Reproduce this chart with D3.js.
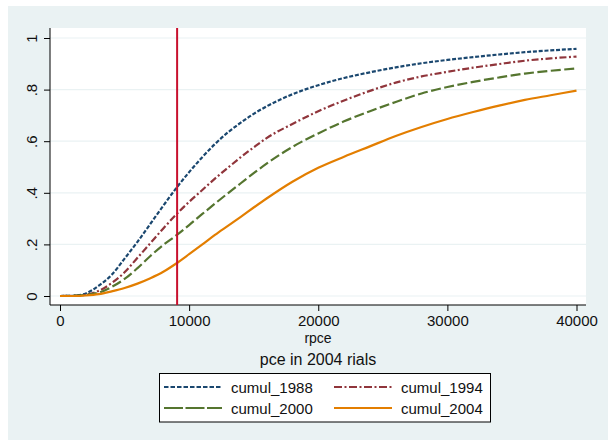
<!DOCTYPE html>
<html>
<head>
<meta charset="utf-8">
<script src="https://cdn.jsdelivr.net/npm/d3@7"></script>
<style>
  body { margin: 0; background: #fff; }
  text { font-family: "Liberation Sans", Arial, sans-serif; fill: #111; }
</style>
</head>
<body>
<div id="chart"></div>
<script>
// data
var rpce = [0, 1000, 2000, 3000, 4000, 5000, 6000, 7000, 8000, 9000, 10000, 11000, 12000, 13000, 14000, 15000,
  16000, 18000, 20000, 22000, 24000, 26000, 28000, 30000, 32000, 34000, 36000, 38000, 40000];
var cumul1988 = [0, 0.001, 0.01, 0.04, 0.082, 0.145, 0.21, 0.28, 0.35, 0.418, 0.48, 0.537, 0.589, 0.634, 0.672, 0.706,
  0.735, 0.782, 0.817, 0.845, 0.867, 0.886, 0.902, 0.915, 0.926, 0.936, 0.945, 0.952, 0.958];
var cumul1994 = [0, 0.001, 0.005, 0.02, 0.05, 0.092, 0.148, 0.205, 0.262, 0.316, 0.365, 0.41, 0.455, 0.497, 0.538, 0.576,
  0.612, 0.667, 0.716, 0.758, 0.795, 0.827, 0.851, 0.869, 0.885, 0.899, 0.912, 0.921, 0.928];
var cumul2000 = [0, 0.001, 0.004, 0.013, 0.035, 0.066, 0.108, 0.155, 0.198, 0.235, 0.275, 0.317, 0.358, 0.398, 0.437, 0.476,
  0.513, 0.578, 0.63, 0.677, 0.716, 0.752, 0.785, 0.81, 0.83, 0.847, 0.862, 0.873, 0.882];
var cumul2004 = [0, 0, 0.002, 0.007, 0.018, 0.031, 0.048, 0.069, 0.094, 0.126, 0.162, 0.199, 0.237, 0.272, 0.307, 0.343,
  0.378, 0.443, 0.497, 0.54, 0.58, 0.62, 0.655, 0.686, 0.713, 0.738, 0.76, 0.778, 0.796];
var seriesNames = ["cumul_1988", "cumul_1994", "cumul_2000", "cumul_2004"];
var xTicks = [0, 10000, 20000, 30000, 40000];
var yTicks = [0, 0.2, 0.4, 0.6, 0.8, 1];
var refLine = 9070;

var svgWidth = 608, svgHeight = 440;
var plot = { left: 50, right: 586, top: 28, bottom: 305 };

var svg = d3.select("#chart").append("svg")
  .attr("width", svgWidth)
  .attr("height", svgHeight);

// outer background
svg.append("rect")
  .attr("x", 8).attr("y", 6)
  .attr("width", svgWidth - 8).attr("height", svgHeight - 6)
  .attr("fill", "#eaf2f3");

// plot region
svg.append("rect")
  .attr("x", plot.left).attr("y", plot.top)
  .attr("width", plot.right - plot.left).attr("height", plot.bottom - plot.top)
  .attr("fill", "#fff");

var x = d3.scaleLinear().domain([0, 40000]).range([60, 576.5]);
var y = d3.scaleLinear().domain([0, 1]).range([296, 38]);

// gridlines
svg.append("g").selectAll("line")
  .data(yTicks)
  .enter().append("line")
  .attr("x1", plot.left).attr("x2", plot.right)
  .attr("y1", d => y(d)).attr("y2", d => y(d))
  .attr("stroke", "#eaf2f3")
  .attr("stroke-width", 1.2);

// axes
var fmtY = function(d) { return d === 0 ? "0" : d === 1 ? "1" : d3.format(".1f")(d).replace("0.", "."); };

var leftAxis = d3.axisLeft(y).tickValues(yTicks).tickFormat(fmtY).tickSize(6).tickSizeOuter(0);
var yAxisG = svg.append("g")
  .attr("transform", `translate(${plot.left},0)`)
  .call(leftAxis);
yAxisG.select(".domain").attr("d", `M0,${plot.top}V${plot.bottom}`).attr("stroke", "#000");
yAxisG.selectAll(".tick line").attr("stroke", "#000");
yAxisG.selectAll(".tick text")
  .attr("x", null).attr("dy", null)
  .attr("transform", "translate(-13,0) rotate(-90)")
  .attr("text-anchor", "middle")
  .style("font-size", "15px")
  .attr("fill", "#111");

var bottomAxis = d3.axisBottom(x).tickValues(xTicks).tickFormat(d3.format("d")).tickSize(6).tickSizeOuter(0);
var xAxisG = svg.append("g")
  .attr("transform", `translate(0,${plot.bottom})`)
  .call(bottomAxis);
xAxisG.select(".domain").attr("d", `M${plot.left},0H${plot.right}`).attr("stroke", "#000");
xAxisG.selectAll(".tick line").attr("stroke", "#000");
xAxisG.selectAll(".tick text")
  .attr("y", 10)
  .style("font-size", "15px")
  .attr("fill", "#111");

// axis titles
svg.append("text")
  .attr("x", 318).attr("y", 343)
  .attr("text-anchor", "middle")
  .style("font-size", "14px")
  .text("rpce");

svg.append("text")
  .attr("x", 318).attr("y", 365)
  .attr("text-anchor", "middle")
  .style("font-size", "16px")
  .text("pce in 2004 rials");

// series
var series = [
  { name: seriesNames[0], values: cumul1988, color: "#1a476f", dash: "4,1.8", legendDash: "4.5,2" },
  { name: seriesNames[1], values: cumul1994, color: "#90353b", dash: "7,2.5,2,2.5", legendDash: "8,2.5,2,2.5" },
  { name: seriesNames[2], values: cumul2000, color: "#55752f", dash: "10,3.5", legendDash: "19,2.5" },
  { name: seriesNames[3], values: cumul2004, color: "#e37e00", dash: null, legendDash: null }
];

var line = d3.line()
  .x((d, i) => x(rpce[i]))
  .y(d => y(d))
  .curve(d3.curveMonotoneX);

svg.append("g").selectAll("path")
  .data(series)
  .enter().append("path")
  .attr("d", d => line(d.values))
  .attr("fill", "none")
  .attr("stroke", d => d.color)
  .attr("stroke-width", 2.2)
  .attr("stroke-dasharray", d => d.dash);

// vertical reference line
svg.append("line")
  .attr("x1", x(refLine)).attr("x2", x(refLine))
  .attr("y1", plot.top).attr("y2", plot.bottom)
  .attr("stroke", "#c8102e")
  .attr("stroke-width", 2);

// legend
var legend = svg.append("g");
legend.append("rect")
  .attr("x", 159.5).attr("y", 373.5)
  .attr("width", 331).attr("height", 48.5)
  .attr("fill", "#fff")
  .attr("stroke", "#000")
  .attr("stroke-width", 1);

var legendItems = legend.selectAll("g.item")
  .data(series)
  .enter().append("g")
  .attr("class", "item")
  .attr("transform", (d, i) => `translate(${i % 2 === 0 ? 164 : 334},${i < 2 ? 387 : 408})`);

legendItems.append("line")
  .attr("x1", 0).attr("x2", 58)
  .attr("y1", 0).attr("y2", 0)
  .attr("stroke", d => d.color)
  .attr("stroke-width", 2.2)
  .attr("stroke-dasharray", d => d.legendDash);

legendItems.append("text")
  .attr("x", 67).attr("y", 5.5)
  .style("font-size", "15px")
  .text(d => d.name);
</script>
</body>
</html>
